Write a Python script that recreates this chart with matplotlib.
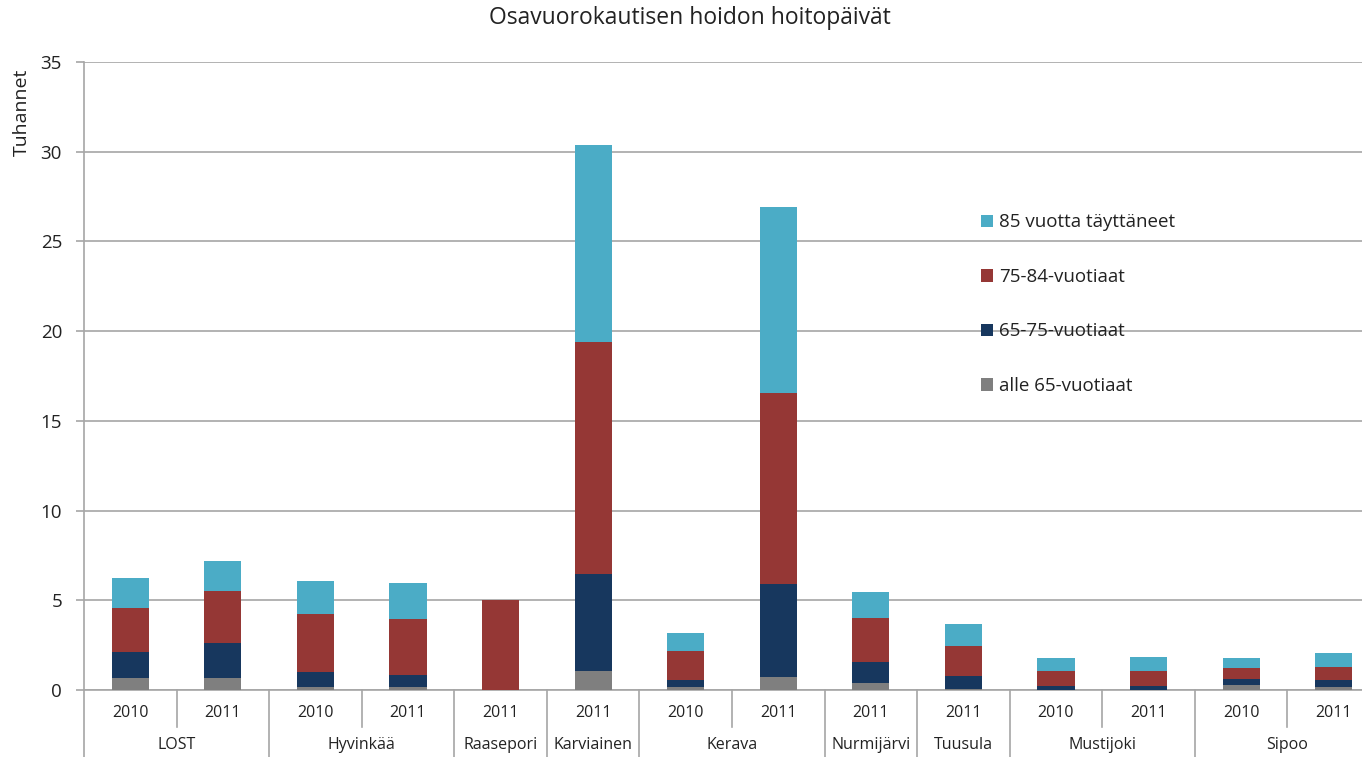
import matplotlib
matplotlib.use('Agg')
import matplotlib.pyplot as plt
from matplotlib.patches import Patch
from matplotlib.transforms import blended_transform_factory
import numpy as np

plt.rcParams['font.family'] = ['Open Sans', 'DejaVu Sans']

# ryhmät ja vuodet, yksi pylväs per vuosi
groups = ['LOST', 'Hyvinkää', 'Raasepori', 'Karviainen', 'Kerava',
          'Nurmijärvi', 'Tuusula', 'Mustijoki', 'Sipoo']
group_years = [['2010', '2011'], ['2010', '2011'], ['2011'], ['2011'],
               ['2010', '2011'], ['2011'], ['2011'], ['2010', '2011'],
               ['2010', '2011']]

# tuhansia hoitopäiviä, ikäryhmittäin
alle65 = [0.65, 0.65, 0.17, 0.17, 0.0, 1.05, 0.18, 0.71, 0.41, 0.06, 0.02, 0.02, 0.30, 0.19]
v65_75 = [1.49, 1.95, 0.83, 0.65, 0.0, 5.42, 0.35, 5.21, 1.15, 0.72, 0.22, 0.22, 0.31, 0.35]
v75_84 = [2.43, 2.92, 3.22, 3.16, 5.0, 12.95, 1.66, 10.66, 2.46, 1.65, 0.82, 0.82, 0.63, 0.76]
v85 = [1.65, 1.65, 1.84, 1.97, 0.0, 10.93, 0.99, 10.32, 1.42, 1.24, 0.72, 0.77, 0.54, 0.77]

series = [
    ('alle 65-vuotiaat', alle65, '#7F7F7F'),
    ('65-75-vuotiaat', v65_75, '#17375E'),
    ('75-84-vuotiaat', v75_84, '#953735'),
    ('85 vuotta täyttäneet', v85, '#4BACC6'),
]

W, H = 1362, 757
fig = plt.figure(figsize=(W / 100, H / 100), dpi=100)
ax = fig.add_axes([84 / W, 1 - 690 / H, (1380 - 84) / W, (690 - 62) / H])

years = [y for ys in group_years for y in ys]
x = np.arange(len(years))
bottom = np.zeros(len(years))
handles = {}
for name, vals, col in series:
    ax.bar(x, vals, width=0.40, bottom=bottom, color=col, edgecolor='none', zorder=3)
    bottom += np.array(vals)
    handles[name] = Patch(facecolor=col, edgecolor='none')

ax.set_xlim(-0.5, len(years) - 0.5)
ax.set_ylim(0, 35)
ax.set_yticks(range(0, 36, 5))
ax.yaxis.grid(True, color='#A6A6A6', linewidth=1.2, zorder=0)
ax.tick_params(axis='y', labelsize=13.5, length=5.8, width=1.2, color='#A6A6A6',
               pad=10, labelcolor='#222222')
ax.set_xticks([])
for s in ['top', 'right']:
    ax.spines[s].set_visible(False)
for s in ['left', 'bottom']:
    ax.spines[s].set_color('#A6A6A6')
    ax.spines[s].set_linewidth(1.2)

# monitasoiset luokka-akselin otsikot
tr = blended_transform_factory(ax.transData, ax.transAxes)
y_year = (690 - 713) / 628
y_group = (690 - 745) / 628
y_short = (690 - 727) / 628
y_long = (690 - 760) / 628
for xi, yr in zip(x, years):
    ax.text(xi, y_year, yr, transform=tr, ha='center', va='center', fontsize=11.5,
            color='#222222', clip_on=False)

pos = 0
ax.plot([-0.5, -0.5], [0, y_long], transform=tr, color='#A6A6A6', lw=1.2, clip_on=False)
for g, ys in zip(groups, group_years):
    n = len(ys)
    ax.text(pos + (n - 1) / 2, y_group, g, transform=tr, ha='center', va='center',
            fontsize=11.5, color='#222222', clip_on=False)
    for k in range(1, n):
        xs = pos + k - 0.5
        ax.plot([xs, xs], [0, y_short], transform=tr, color='#A6A6A6', lw=1.2, clip_on=False)
    pos += n
    ax.plot([pos - 0.5, pos - 0.5], [0, y_long], transform=tr, color='#A6A6A6', lw=1.2, clip_on=False)

fig.text(690 / W, 1 - 18 / H, 'Osavuorokautisen hoidon hoitopäivät', ha='center', va='center',
         fontsize=16.5, color='#222222')
fig.text(22 / W, 1 - 112 / H, 'Tuhannet', rotation=90, ha='center', va='center', fontsize=14,
         color='#222222')

order = ['85 vuotta täyttäneet', '75-84-vuotiaat', '65-75-vuotiaat', 'alle 65-vuotiaat']
leg = fig.legend([handles[o] for o in order], order, loc='upper left',
                 bbox_to_anchor=(972 / W, 1 - 204 / H), frameon=False, fontsize=13.5,
                 handlelength=0.64, handleheight=0.64, handletextpad=0.3, labelspacing=1.95,
                 borderpad=0, labelcolor='#222222')

fig.savefig('out.png', dpi=100)
